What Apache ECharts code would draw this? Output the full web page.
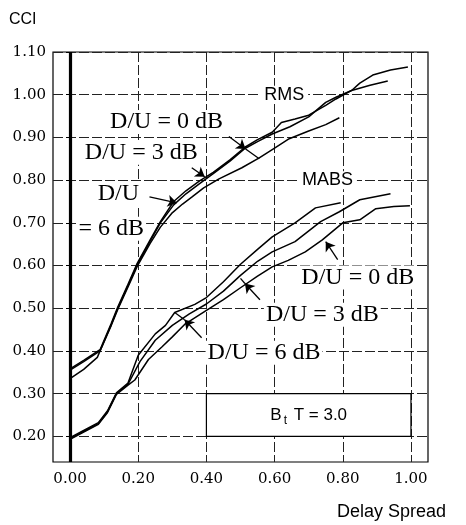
<!DOCTYPE html>
<html><head><meta charset="utf-8">
<script src="https://cdn.jsdelivr.net/npm/echarts@6/dist/echarts.min.js"></script>
<style>html,body{margin:0;padding:0;background:#fff}#c{width:466px;height:525px}</style>
</head><body><div id="c"></div>
<script>
// Tick labels
const xTicks = [0, 0.2, 0.4, 0.6, 0.8, 1.0];
const yTicks = [0.2, 0.3, 0.4, 0.5, 0.6, 0.7, 0.8, 0.9, 1.0, 1.1];

// RMS curves [delay spread, CCI]
const rms0dB = [[0,0.335],[0.04,0.357],[0.08,0.385],[0.088,0.40],[0.121,0.46],[0.14,0.497],[0.17,0.55],[0.197,0.598],[0.235,0.652],[0.265,0.69],[0.298,0.722],[0.33,0.744],[0.357,0.76],[0.392,0.782],[0.437,0.803],[0.504,0.829],[0.555,0.852],[0.60,0.875],[0.643,0.897],[0.70,0.915],[0.75,0.93],[0.79,0.946]];
const rms3dB = [[0,0.355],[0.04,0.375],[0.088,0.40],[0.121,0.462],[0.14,0.50],[0.17,0.553],[0.197,0.602],[0.235,0.657],[0.265,0.70],[0.304,0.742],[0.34,0.768],[0.38,0.792],[0.42,0.815],[0.47,0.845],[0.513,0.874],[0.55,0.89],[0.593,0.908],[0.645,0.925],[0.70,0.948],[0.75,0.982],[0.78,0.994],[0.826,1.01],[0.88,1.022],[0.932,1.032]];
const rms6dB = [[0,0.358],[0.04,0.378],[0.088,0.403],[0.121,0.465],[0.14,0.503],[0.17,0.556],[0.197,0.605],[0.235,0.66],[0.265,0.703],[0.304,0.75],[0.34,0.775],[0.38,0.798],[0.42,0.818],[0.47,0.848],[0.513,0.877],[0.55,0.895],[0.593,0.912],[0.62,0.935],[0.66,0.943],[0.70,0.952],[0.75,0.975],[0.78,0.99],[0.826,1.01],[0.85,1.027],[0.888,1.046],[0.94,1.058],[0.991,1.065]];

// MABS curves
const mabs0dB = [[0,0.193],[0.04,0.21],[0.083,0.228],[0.11,0.256],[0.136,0.298],[0.17,0.32],[0.19,0.332],[0.23,0.38],[0.27,0.41],[0.30,0.433],[0.336,0.462],[0.40,0.495],[0.45,0.52],[0.50,0.548],[0.55,0.575],[0.593,0.597],[0.64,0.612],[0.69,0.632],[0.74,0.66],[0.80,0.70],[0.85,0.707],[0.897,0.733],[0.95,0.738],[0.997,0.74]];
const mabs3dB = [[0,0.195],[0.04,0.212],[0.083,0.23],[0.11,0.258],[0.136,0.30],[0.17,0.322],[0.205,0.375],[0.25,0.425],[0.30,0.46],[0.35,0.487],[0.40,0.51],[0.45,0.54],[0.50,0.577],[0.55,0.61],[0.593,0.632],[0.66,0.656],[0.735,0.703],[0.79,0.726],[0.85,0.754],[0.94,0.768]];
const mabs6dB = [[0,0.197],[0.04,0.214],[0.083,0.232],[0.11,0.26],[0.136,0.302],[0.17,0.325],[0.20,0.39],[0.25,0.44],[0.28,0.46],[0.307,0.49],[0.366,0.509],[0.40,0.525],[0.45,0.562],[0.50,0.603],[0.55,0.638],[0.593,0.667],[0.66,0.70],[0.72,0.735],[0.794,0.747]];

// Annotation texts and their anchor points in data space
const noteTexts = ['D/U = 0 dB','D/U = 3 dB','D/U','= 6 dB','D/U = 0 dB','D/U = 3 dB','D/U = 6 dB'];
const notePos = [[0.283,0.936],[0.209,0.864],[0.142,0.768],[0.121,0.686],[0.844,0.572],[0.74,0.485],[0.569,0.396]];
const groupTexts = ['RMS','MABS'];
const groupPos = [[0.628,1.0],[0.755,0.80]];
// Leader lines: [from, to, arrow?]
const leaders = [
  [[0.466,0.902],[0.515,0.873],true],[[0.515,0.873],[0.555,0.85],false],
  [[0.357,0.829],[0.395,0.808],true],
  [[0.233,0.761],[0.313,0.747],true],
  [[0.785,0.614],[0.75,0.656],true],
  [[0.557,0.52],[0.513,0.558],true],[[0.513,0.558],[0.50,0.57],false],
  [[0.386,0.431],[0.336,0.473],true],[[0.336,0.473],[0.307,0.49],false]
];
const boxRange = [[0.4,0.3],[1.0,0.2]];
const boxText = ['B','t',' T = 3.0'];

const serif = 'Liberation Serif';
const sans = 'Liberation Sans';
const ink = '#000';

function curve(name, data){
  return {name, type:'line', data, showSymbol:false, symbol:'none', silent:true,
    lineStyle:{color:ink, width:1.5}, z:3};
}

const chart = echarts.init(document.getElementById('c'), null, {renderer:'canvas'});
chart.setOption({
  animation:false,
  backgroundColor:'#fff',
  title:[
    {text:'CCI', left:9, top:12, padding:0, textStyle:{fontFamily:sans, fontSize:16, fontWeight:'normal', color:ink}},
    {text:'Delay Spread', left:337, top:503, padding:0, textStyle:{fontFamily:sans, fontSize:18, fontWeight:'normal', color:ink}}
  ],
  grid:{left:53, right:38, top:52, bottom:63, show:true, borderColor:ink, borderWidth:1.2, backgroundColor:'transparent'},
  xAxis:{type:'value', min:-0.05, max:1.05,
    axisLine:{show:false}, axisTick:{show:false, customValues:xTicks},
    axisLabel:{customValues:xTicks, formatter:v=>v.toFixed(2), fontFamily:'DejaVu Serif', fontSize:15, color:ink, margin:10},
    splitLine:{show:true, lineStyle:{color:'#222', type:[10,3], width:1}}},
  yAxis:{type:'value', min:0.14, max:1.1,
    axisLine:{show:false}, axisTick:{show:true, length:4, customValues:yTicks, lineStyle:{color:ink}},
    axisLabel:{customValues:yTicks, formatter:v=>v.toFixed(2), fontFamily:'DejaVu Serif', fontSize:15, color:ink, margin:7},
    splitLine:{show:true, lineStyle:{color:'#222', type:[10,3], width:1}}},
  series:[
    curve('RMS D/U = 0 dB', rms0dB),
    curve('RMS D/U = 3 dB', rms3dB),
    curve('RMS D/U = 6 dB', rms6dB),
    curve('MABS D/U = 0 dB', mabs0dB),
    curve('MABS D/U = 3 dB', mabs3dB),
    curve('MABS D/U = 6 dB', mabs6dB),
    {name:'decor', type:'line', data:[], silent:true, z:2,
      markLine:{silent:true, symbol:'none', animation:false, label:{show:false},
        lineStyle:{color:ink, width:3.2, type:'solid'},
        data:[[{coord:[0,0.14]},{coord:[0,1.1]}]]},
      markArea:{silent:true,
        itemStyle:{color:'#fff', borderColor:ink, borderWidth:1.2, opacity:1},
        label:{show:true, position:'inside', formatter:'{b|'+boxText[0]+'}{s|'+boxText[1]+'}{b|'+boxText[2]+'}',
          rich:{b:{fontFamily:sans, fontSize:17, color:ink}, s:{fontFamily:sans, fontSize:12, color:ink, padding:[11,2,0,2]}}},
        data:[[{coord:boxRange[0]},{coord:boxRange[1]}]]}
    },
    {name:'leaders', type:'line', data:[], silent:true, z:4,
      markLine:{silent:true, animation:false, label:{show:false}, symbolSize:9,
        lineStyle:{color:ink, width:1.3, type:'solid'},
        data:leaders.map(l=>[{coord:l[0], symbol:'none'},{coord:l[1], symbol:l[2]?'arrow':'none'}])}
    },
    {name:'notes', type:'scatter', silent:true, z:5, symbolSize:1, itemStyle:{color:'rgba(0,0,0,0)', opacity:1},
      label:{show:true, position:'inside', formatter:'{b}', fontFamily:serif, fontSize:24, color:ink, opacity:1, backgroundColor:'#fff', padding:[0,2]},
      data:noteTexts.map((t,i)=>({name:t, value:notePos[i]})).concat(
        groupTexts.map((t,i)=>({name:t, value:groupPos[i], label:{fontFamily:sans, fontSize:18, padding:[0,4]}})))
    }
  ]
});
</script>
</body></html>
